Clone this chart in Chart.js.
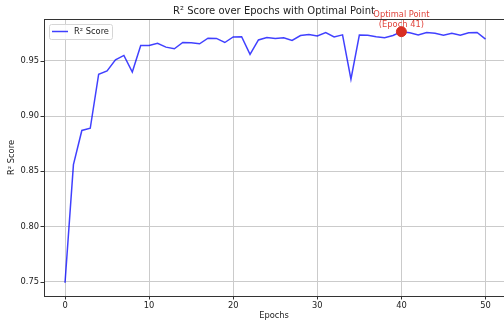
<!DOCTYPE html>
<html>
<head>
<meta charset="utf-8">
<script src="https://cdn.jsdelivr.net/npm/chart.js@4"></script>
<style>
html, body { margin: 0; padding: 0; background: #fff; }
</style>
</head>
<body>
<canvas id="r2Chart" width="504" height="324"></canvas>
<script>
// data
var epochs = [0, 1, 2, 3, 4, 5, 6, 7, 8, 9, 10, 11, 12, 13, 14, 15, 16, 17, 18, 19, 20,
    21, 22, 23, 24, 25, 26, 27, 28, 29, 30, 31, 32, 33, 34, 35, 36, 37, 38, 39, 40,
    41, 42, 43, 44, 45, 46, 47, 48, 49, 50];
var r2Scores = [0.749, 0.856, 0.887, 0.889, 0.938, 0.941, 0.951, 0.955, 0.940, 0.964, 0.964,
    0.966, 0.9625, 0.961, 0.9667, 0.9664, 0.9655, 0.9706, 0.9704, 0.9667, 0.9718,
    0.972, 0.956, 0.969, 0.9712, 0.9703, 0.971, 0.9685, 0.973, 0.974, 0.9727,
    0.9758, 0.9718, 0.9736, 0.9334, 0.9734, 0.9733, 0.972, 0.971, 0.973, 0.9765,
    0.9755, 0.9736, 0.9757, 0.975, 0.9733, 0.975, 0.9733, 0.9755, 0.9758, 0.9697];
var xTicks = [0, 10, 20, 30, 40, 50];
var yTicks = [0.75, 0.80, 0.85, 0.90, 0.95];
var optimalEpoch = 40;
var optimalLabel = ["Optimal Point", "(Epoch 41)"];
var chartTitle = "R² Score over Epochs with Optimal Point";
var seriesName = "R² Score";

var fam = "'DejaVu Sans', sans-serif";
var textColor = "#222";
var axisColor = "#333";
var gridColor = "#cbcbcb";
var lineColor = "rgba(0, 0, 255, 0.75)";
var dotColor = "#d82e22";
var noteColor = "#e0443c";

var linePoints = epochs.map((e, i) => ({ x: e, y: r2Scores[i] }));
var optPoint = [{ x: epochs[optimalEpoch], y: r2Scores[optimalEpoch] }];

var extras = {
    id: "extras",
    afterDraw: function(chart) {
        const ctx = chart.ctx;
        const a = chart.chartArea;
        const xs = chart.scales.x, ys = chart.scales.y;
        ctx.save();
        // spines
        ctx.strokeStyle = axisColor;
        ctx.lineWidth = 1;
        ctx.strokeRect(a.left + 0.5, a.top + 0.5, a.right - a.left, a.bottom - a.top);
        // tick marks
        ctx.beginPath();
        xTicks.forEach(v => {
            let px = Math.round(xs.getPixelForValue(v)) + 0.5;
            ctx.moveTo(px, a.bottom);
            ctx.lineTo(px, a.bottom + 3.5);
        });
        yTicks.forEach(v => {
            let py = Math.round(ys.getPixelForValue(v)) + 0.5;
            ctx.moveTo(a.left, py);
            ctx.lineTo(a.left - 3.5, py);
        });
        ctx.stroke();
        // title
        ctx.fillStyle = textColor;
        ctx.font = "10px " + fam;
        ctx.textAlign = "center";
        ctx.textBaseline = "middle";
        ctx.fillText(chartTitle, (a.left + a.right) / 2, 11.5);
        // annotation
        let ox = xs.getPixelForValue(optPoint[0].x);
        ctx.fillStyle = noteColor;
        ctx.font = "8.3px " + fam;
        ctx.fillText(optimalLabel[0], ox, 14.5);
        ctx.fillText(optimalLabel[1], ox, 24.5);
        // legend
        let lx = a.left + 5, ly = a.top + 5, lw = 63, lh = 15;
        ctx.fillStyle = "rgba(255,255,255,0.85)";
        ctx.strokeStyle = "#d6d6d6";
        ctx.lineWidth = 1;
        ctx.beginPath();
        ctx.roundRect(lx + 0.5, ly + 0.5, lw, lh, 2);
        ctx.fill();
        ctx.stroke();
        ctx.strokeStyle = lineColor;
        ctx.lineWidth = 1.5;
        ctx.beginPath();
        ctx.moveTo(lx + 3, ly + 7.5);
        ctx.lineTo(lx + 19, ly + 7.5);
        ctx.stroke();
        ctx.fillStyle = textColor;
        ctx.textAlign = "left";
        ctx.fillText(seriesName, lx + 25, ly + 8);
        ctx.restore();
    }
};

var tickFont = { family: fam, size: 8.3 };

new Chart(document.getElementById("r2Chart"), {
    type: "line",
    data: {
        datasets: [{
            label: seriesName,
            data: linePoints,
            borderColor: lineColor,
            borderWidth: 1.5,
            pointRadius: 0,
            tension: 0,
            order: 1
        }, {
            label: "Optimal",
            data: optPoint,
            showLine: false,
            pointRadius: 5,
            pointBackgroundColor: dotColor,
            pointBorderColor: dotColor,
            clip: false,
            order: 0
        }]
    },
    options: {
        responsive: false,
        animation: false,
        layout: { autoPadding: false, padding: { top: 19, right: 0, left: 0, bottom: 0 } },
        plugins: {
            legend: { display: false },
            title: { display: false },
            tooltip: { enabled: false }
        },
        scales: {
            x: {
                type: "linear",
                min: -2.5,
                max: 52.2,
                afterBuildTicks: function(s) { s.ticks = xTicks.map(v => ({ value: v })); },
                afterFit: function(s) { s.height = 28; },
                grid: { color: gridColor, drawTicks: false },
                border: { display: false },
                ticks: { font: tickFont, color: textColor, padding: 5, maxRotation: 0 },
                title: { display: true, text: "Epochs", font: tickFont, color: textColor, padding: { top: 0, bottom: 3 } }
            },
            y: {
                min: 0.737,
                max: 0.988,
                afterBuildTicks: function(s) { s.ticks = yTicks.map(v => ({ value: v })); },
                afterFit: function(s) { s.width = 44; },
                grid: { color: gridColor, drawTicks: false },
                border: { display: false },
                ticks: { font: tickFont, color: textColor, padding: 5, callback: v => Number(v).toFixed(2) },
                title: { display: true, text: "R² Score", font: tickFont, color: textColor, padding: { top: 7, bottom: 0 } }
            }
        }
    },
    plugins: [extras]
});
</script>
</body>
</html>
